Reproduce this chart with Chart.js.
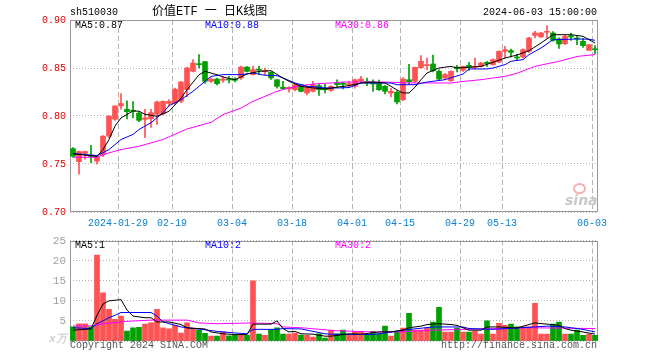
<!DOCTYPE html>
<html>
<head>
<meta charset="utf-8">
<script src="https://cdn.jsdelivr.net/npm/chart.js@4.4.1/dist/chart.umd.min.js"></script>
<style>
body { margin: 0; background: #fff; }
#wrap { position: relative; width: 660px; height: 360px; background: #fff; font-family: "Liberation Mono", "DejaVu Sans Mono", monospace; font-size: 10px; }
#wrap canvas { position: absolute; left: 0; }
.t { position: absolute; white-space: nowrap; line-height: 10px; }
</style>
</head>
<body>
<div id="wrap">
  <canvas id="kline" width="660" height="230" style="top:0"></canvas>
  <canvas id="vol" width="660" height="130" style="top:230px"></canvas>

  <div class="t" style="left:70px;top:8px">sh510030</div>
  <div class="t" style="left:152px;top:6px;font-size:12px;line-height:12px;font-family:'Liberation Mono','Noto Sans CJK SC',monospace">价值ETF 一 日K线图</div>
  <div class="t" style="right:63px;top:8px">2024-06-03 15:00:00</div>

  <div class="t" style="left:75px;top:21px">MA5:0.87</div>
  <div class="t" style="left:205px;top:21px;color:#0000ff">MA10:0.88</div>
  <div class="t" style="left:335px;top:21px;color:#ff00ff">MA30:0.86</div>

  <div class="t" style="left:75px;top:241px">MA5:1</div>
  <div class="t" style="left:205px;top:241px;color:#0000ff">MA10:2</div>
  <div class="t" style="left:335px;top:241px;color:#ff00ff">MA30:2</div>

  <div class="t" style="left:49px;top:334px;color:#bbb;font-size:11px;font-style:italic">x万</div>
  <div class="t" style="left:70px;top:341px;color:#555">Copyright 2024 SINA.COM</div>
  <div class="t" style="right:63px;top:341px;color:#555">http://finance.sina.com.cn</div>

  <!-- sina watermark -->
  <div style="position:absolute;left:573px;top:183px;width:9px;height:7px;border:2px solid #f5b0b0;border-radius:50%"></div>
  <div class="t" style="left:565px;top:192px;font:italic bold 14px 'DejaVu Sans',sans-serif;color:#c8c8c8">sina</div>
</div>

<script>
// trading days shown (categories)
let dates = [
  '2024-01-17','2024-01-18','2024-01-19','2024-01-22','2024-01-23','2024-01-24','2024-01-25','2024-01-26',
  '2024-01-29','2024-01-30','2024-01-31','2024-02-01','2024-02-02','2024-02-05','2024-02-06','2024-02-07','2024-02-08',
  '2024-02-19','2024-02-20','2024-02-21','2024-02-22','2024-02-23','2024-02-26','2024-02-27','2024-02-28','2024-02-29','2024-03-01',
  '2024-03-04','2024-03-05','2024-03-06','2024-03-07','2024-03-08','2024-03-11','2024-03-12','2024-03-13','2024-03-14','2024-03-15',
  '2024-03-18','2024-03-19','2024-03-20','2024-03-21','2024-03-22','2024-03-25','2024-03-26','2024-03-27','2024-03-28','2024-03-29',
  '2024-04-01','2024-04-02','2024-04-03','2024-04-08','2024-04-09','2024-04-10','2024-04-11','2024-04-12',
  '2024-04-15','2024-04-16','2024-04-17','2024-04-18','2024-04-19','2024-04-22','2024-04-23','2024-04-24','2024-04-25','2024-04-26',
  '2024-04-29','2024-04-30','2024-05-06','2024-05-07','2024-05-08','2024-05-09','2024-05-10',
  '2024-05-13','2024-05-14','2024-05-15','2024-05-16','2024-05-17','2024-05-20','2024-05-21','2024-05-22','2024-05-23','2024-05-24',
  '2024-05-27','2024-05-28','2024-05-29','2024-05-30','2024-05-31',
  '2024-06-03'
]

// which dates get a label + dashed gridline, and the text shown
let tickDates = ['2024-01-29','2024-02-19','2024-03-04','2024-03-18','2024-04-01','2024-04-15','2024-04-29','2024-05-13','2024-06-03']
let tickText  = ['2024-01-29','02-19','03-04','03-18','04-01','04-15','04-29','05-13','06-03']

// daily open / high / low / close
let opens = [
  0.766,0.7525,0.761,0.759,0.753,0.7595,0.779,0.7966,0.8105,0.807,
  0.8055,0.803,0.7965,0.797,0.8018,0.8025,0.813,0.8135,0.8153,0.8274,
  0.8465,0.8545,0.8566,0.8361,0.8385,0.8372,0.8385,0.8385,0.8396,0.851,
  0.8431,0.8483,0.8462,0.8455,0.8378,0.830,0.8281,0.8274,0.8326,0.824,
  0.8257,0.8316,0.8292,0.8267,0.8344,0.8344,0.8323,0.8309,0.8361,0.8361,
  0.8351,0.8344,0.8309,0.824,0.8247,0.817,0.8378,0.8361,0.8504,0.8524,
  0.8542,0.8465,0.8396,0.8368,0.851,0.8476,0.8528,0.8507,0.8517,0.8559,
  0.8535,0.8562,0.8674,0.8681,0.8615,0.8615,0.8674,0.884,0.8823,0.8872,
  0.8865,0.8802,0.8753,0.8837,0.8813,0.8778,0.8684,0.8698
]
let highs = [
  0.767,0.7635,0.7635,0.7695,0.7585,0.7795,0.8005,0.8108,0.8233,0.8157,
  0.815,0.804,0.807,0.807,0.8155,0.8158,0.817,0.829,0.836,0.851,
  0.8587,0.8639,0.857,0.840,0.8395,0.841,0.8413,0.840,0.852,0.8515,
  0.852,0.852,0.850,0.846,0.838,0.836,0.8305,0.8335,0.833,0.8316,
  0.836,0.833,0.833,0.8318,0.8378,0.835,0.8365,0.8385,0.8413,0.8396,
  0.8378,0.8375,0.832,0.8288,0.826,0.840,0.8538,0.851,0.863,0.8604,
  0.8635,0.848,0.8445,0.847,0.8528,0.852,0.8559,0.8604,0.856,0.857,
  0.8595,0.868,0.8726,0.8698,0.8646,0.870,0.882,0.8882,0.8872,0.8941,
  0.888,0.8813,0.884,0.8865,0.8837,0.881,0.8745,0.8733
]
let lows = [
  0.757,0.7393,0.755,0.7515,0.7497,0.7577,0.7775,0.7955,0.807,0.797,
  0.798,0.794,0.7775,0.788,0.7913,0.801,0.810,0.812,0.814,0.8198,
  0.846,0.850,0.834,0.835,0.8325,0.835,0.8344,0.8355,0.838,0.846,
  0.8425,0.843,0.843,0.838,0.829,0.8275,0.8247,0.826,0.825,0.822,
  0.825,0.8215,0.824,0.8257,0.830,0.8281,0.8295,0.829,0.835,0.8316,
  0.8257,0.8267,0.823,0.8198,0.8125,0.816,0.833,0.835,0.8496,0.8483,
  0.846,0.8375,0.838,0.836,0.8458,0.8465,0.8476,0.8493,0.851,0.8517,
  0.853,0.8555,0.8604,0.8615,0.8576,0.8604,0.866,0.8813,0.882,0.8813,
  0.878,0.8705,0.8743,0.8788,0.8743,0.8715,0.868,0.865
]
let closes = [
  0.758,0.763,0.763,0.7578,0.758,0.779,0.800,0.8104,0.813,0.8045,
  0.805,0.7955,0.798,0.8035,0.8146,0.8153,0.8153,0.828,0.8354,0.850,
  0.8552,0.8535,0.8361,0.8385,0.8337,0.8385,0.8375,0.8372,0.851,0.8465,
  0.8483,0.8476,0.8476,0.8396,0.8309,0.8285,0.8299,0.8326,0.8257,0.8302,
  0.8326,0.8274,0.8274,0.8309,0.8326,0.833,0.8337,0.8378,0.8385,0.8344,
  0.8333,0.8274,0.8257,0.8257,0.8146,0.8385,0.8358,0.8507,0.857,0.8535,
  0.8472,0.8385,0.8431,0.8465,0.8493,0.8517,0.851,0.8517,0.8552,0.8545,
  0.8587,0.8674,0.8691,0.8663,0.8604,0.8691,0.8813,0.8865,0.8865,0.8882,
  0.8788,0.875,0.883,0.8823,0.8802,0.8733,0.8743,0.869
]

// volume, x10k
let volumes = [
  3.5,4.3,4.3,3.5,21.4,12,7.9,5.4,6.2,2.5,
  3.25,3.4,4.2,4.5,7.9,3.25,3,3.9,2,4.5,
  3.2,2.75,1.9,1.2,1.2,2.3,1.3,1.5,1.5,1.5,
  15,1.7,1.4,2.8,3.25,1.7,1.75,2,1.5,1.4,
  1,1.8,0.75,2.7,1.8,2.7,1.4,2.4,2.4,1.4,
  2.4,1.8,3.7,1.2,2.25,3.2,6.9,2.7,2.7,3.3,
  4.7,8.4,2.25,2.25,3.2,2.25,2.25,2.4,1.7,5,
  1.7,4.4,3.9,4.2,3.5,3.5,3.5,9.4,1.7,1.7,
  4.2,4.7,1.7,1.7,2.7,1.4,1.7,1.4
]

// moving average lines at these day indexes
let ma5At  = [0,4,5,6,7,8,10,11,12,14,16,18,19,21,22,24,25,27,29,31,33,35,36,38,40,42,44,46,48,50,52,53,54,55,56,57,58,59,61,63,64,66,68,70,72,74,76,78,80,83,85,86,87]
let ma5    = [0.7605,0.758,0.765,0.7755,0.7895,0.798,0.8052,0.805,0.8017,0.7997,0.8049,0.8185,0.8274,0.843,0.8465,0.843,0.8406,0.8378,0.8437,0.8465,0.8472,0.8395,0.8361,0.8309,0.8292,0.8281,0.830,0.8316,0.8344,0.8354,0.8344,0.8309,0.827,0.824,0.824,0.830,0.8378,0.8448,0.850,0.8517,0.850,0.8507,0.8517,0.8559,0.8604,0.8635,0.868,0.876,0.8847,0.8847,0.883,0.8795,0.876]
let ma10At = [0,4,6,8,10,11,13,15,16,18,20,22,23,25,28,30,32,34,35,37,39,40,42,44,46,48,53,54,57,59,62,65,66,69,70,72,73,75,76,78,80,84,86,87]
let ma10   = [0.761,0.7588,0.765,0.7755,0.7808,0.786,0.793,0.8035,0.8108,0.817,0.8257,0.8361,0.8413,0.8431,0.8431,0.8448,0.8424,0.842,0.8396,0.8344,0.8309,0.8305,0.8292,0.8292,0.8296,0.8344,0.8344,0.8326,0.8326,0.8354,0.8378,0.8437,0.849,0.849,0.850,0.8535,0.857,0.8587,0.8639,0.8708,0.8795,0.8802,0.880,0.8788]
let ma30At = [0,4,5,8,11,13,15,19,23,25,28,30,32,34,36,38,40,43,45,52,56,63,65,68,70,72,74,77,81,84,87]
let ma30   = [0.757,0.757,0.7598,0.765,0.7685,0.772,0.7755,0.7865,0.7934,0.8014,0.8083,0.8153,0.8205,0.8257,0.8292,0.8316,0.8333,0.8344,0.8354,0.8354,0.8344,0.8344,0.836,0.8378,0.8396,0.8413,0.8445,0.8517,0.857,0.862,0.864]

let vma5At  = [0,3,4,5,6,8,9,10,12,13,14,16,18,19,22,23,25,27,29,30,33,34,35,36,37,38,40,42,43,46,48,51,53,55,56,58,59,61,63,64,66,68,69,71,73,74,76,77,79,81,82,83,85,87]
let vma5    = [2.7,3.0,6.4,9.2,10,10.3,7.7,6.2,5.8,5.8,4.75,4.75,4.1,3.25,3.0,2.25,1.8,1.6,1.6,4.2,4.2,5.0,3.1,2.25,2.4,1.8,1.7,1.2,1.2,1.8,1.7,2.25,2.3,2.7,3.3,3.7,4.1,4.3,4.1,3.9,2.7,2.7,3.5,3.5,3.3,3.25,4.1,4.5,4.2,3.9,3.1,2.7,2.25,1.7]
let vma10At = [0,3,4,5,6,7,8,13,14,15,18,22,24,27,29,30,34,35,38,40,42,43,50,53,55,60,65,66,70,74,79,82,85,87]
let vma10   = [3.3,3.1,4.3,5.0,5.8,6.4,7.1,7.1,6.2,4.75,3.5,2.8,2.4,2.0,1.8,2.9,2.9,3.1,3.0,2.4,1.8,1.7,1.6,2.2,2.7,3.5,3.5,3.1,2.9,3.25,3.7,3.5,2.9,2.25]
let vma30At = [0,3,5,9,13,19,21,24,30,34,35,38,42,43,50,54,60,76,87]
let vma30   = [3.75,3.75,4.3,4.9,5.2,5.2,4.5,4.3,4.5,4.3,3.5,3.3,2.8,2.6,2.25,2.25,2.7,3.3,3.1]

let upColor = '#ff5252'
let downColor = '#00a000'
let gridColor = '#b4b4b4'

let candleColors = opens.map(function(o, i) { return closes[i] >= o ? upColor : downColor })

// turn index lists into line points on the category axis
function linePoints(at, vals) {
  let pts = []
  for (let i = 0; i < at.length; i++) {
    pts.push({ x: dates[at[i]], y: vals[i] })
  }
  return pts
}

function lineSet(at, vals, color) {
  return {
    type: 'line', data: linePoints(at, vals), borderColor: color, borderWidth: 1,
    pointRadius: 0, tension: 0, order: 0
  }
}

// gray frame around the plot area
let framePlugin = {
  id: 'frame',
  beforeDatasetsDraw(chart) {
    let a = chart.chartArea
    let ctx = chart.ctx
    ctx.save()
    ctx.strokeStyle = '#999'
    ctx.lineWidth = 1
    ctx.strokeRect(Math.round(a.left) + 0.5, Math.round(a.top) + 0.5,
                   Math.round(a.right - a.left) - 1, Math.round(a.bottom - a.top) - 1)
    ctx.restore()
  }
}

let monoFont = { family: "'Liberation Mono', 'DejaVu Sans Mono', monospace", size: 10 }

function xScale(showLabels, axisHeight) {
  return {
    type: 'category',
    offset: true,
    grid: {
      offset: true,
      drawTicks: false,
      color: function(c) { return tickDates.indexOf(dates[c.index]) >= 0 ? gridColor : 'rgba(0,0,0,0)' }
    },
    border: { display: false, dash: [5, 3] },
    ticks: {
      autoSkip: false, maxRotation: 0, minRotation: 0,
      color: '#0a80d0', font: monoFont, padding: 5, labelOffset: -3,
      display: showLabels,
      callback: function(v, i) {
        let k = tickDates.indexOf(dates[i])
        return k < 0 ? '' : tickText[k]
      }
    },
    afterFit: function(s) { s.height = axisHeight }
  }
}

// price panel
new Chart(document.getElementById('kline'), {
  type: 'bar',
  data: {
    labels: dates,
    datasets: [
      lineSet(ma5At, ma5, '#000000'),
      lineSet(ma10At, ma10, '#0000ff'),
      lineSet(ma30At, ma30, '#ff00ff'),
      {
        label: 'body', data: opens.map(function(o, i) { return [o, closes[i]] }),
        backgroundColor: candleColors, barThickness: 5, grouped: false, minBarLength: 1, order: 1
      },
      {
        label: 'wick', data: lows.map(function(l, i) { return [l, highs[i]] }),
        backgroundColor: candleColors, barThickness: 1, grouped: false, order: 2
      }
    ]
  },
  options: {
    responsive: false, animation: false, devicePixelRatio: 1,
    layout: { padding: { top: 20, right: 62, bottom: 0, left: 0 } },
    plugins: { legend: { display: false }, tooltip: { enabled: false } },
    scales: {
      x: xScale(true, 18),
      y: {
        min: 0.70, max: 0.90,
        grid: { color: gridColor, drawTicks: false },
        border: { display: false, dash: [1, 2] },
        ticks: {
          stepSize: 0.05, color: '#e00000', font: monoFont, padding: 4,
          callback: function(v) { return v.toFixed(2) }
        },
        afterFit: function(s) { s.width = 70 }
      }
    }
  },
  plugins: [framePlugin]
})

// volume panel
new Chart(document.getElementById('vol'), {
  type: 'bar',
  data: {
    labels: dates,
    datasets: [
      lineSet(vma5At, vma5, '#000000'),
      lineSet(vma10At, vma10, '#0000ff'),
      lineSet(vma30At, vma30, '#ff00ff'),
      {
        label: 'volume', data: volumes, backgroundColor: candleColors,
        barThickness: 5, grouped: false, order: 1
      }
    ]
  },
  options: {
    responsive: false, animation: false, devicePixelRatio: 1,
    layout: { padding: { top: 10, right: 62, bottom: 0, left: 0 } },
    plugins: { legend: { display: false }, tooltip: { enabled: false } },
    scales: {
      x: xScale(false, 19),
      y: {
        min: 0, max: 25,
        grid: { color: gridColor, drawTicks: false },
        border: { display: false, dash: [1, 2] },
        ticks: {
          stepSize: 5, color: '#a0a0a0', font: { family: monoFont.family, size: 11 }, padding: 4,
          callback: function(v) { return v === 0 ? '' : v }
        },
        afterFit: function(s) { s.width = 70 }
      }
    }
  },
  plugins: [framePlugin]
})
</script>
</body>
</html>
